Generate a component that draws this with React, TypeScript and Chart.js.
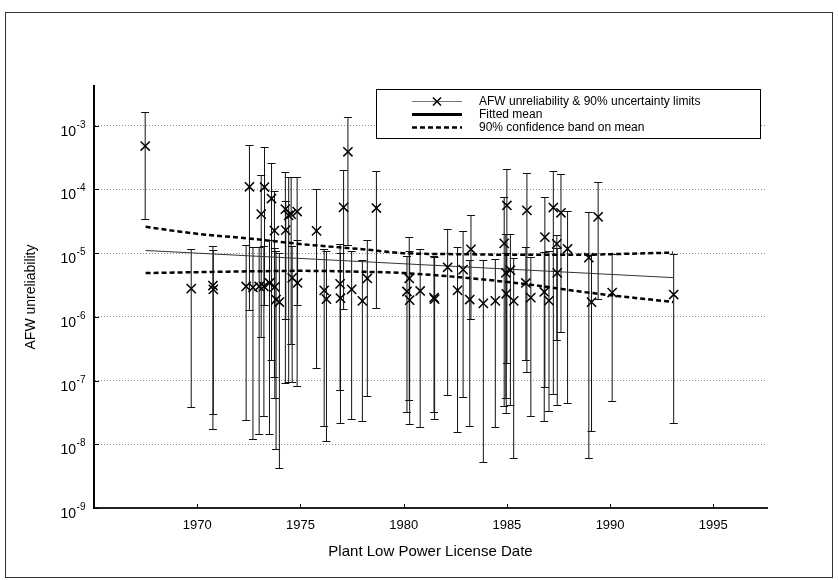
import React, { useEffect, useRef } from 'react';
import { Chart, registerables } from 'chart.js';

Chart.register(...registerables);

// ---- data ----
const YEARS = [
  1967.48, 1969.71, 1970.76, 1970.78, 1972.37, 1972.53, 1972.70, 1973.00, 1973.10, 1973.23,
  1973.26, 1973.50, 1973.60, 1973.74, 1973.76, 1973.82, 1973.98, 1974.27, 1974.29, 1974.43,
  1974.55, 1974.60, 1974.84, 1974.86, 1975.78, 1976.15, 1976.26, 1976.92, 1976.94, 1977.09,
  1977.30, 1977.48, 1978.00, 1978.24, 1978.68, 1980.16, 1980.27, 1980.29, 1980.80, 1981.47,
  1981.50, 1982.13, 1982.61, 1982.88, 1983.20, 1983.26, 1983.86, 1984.44, 1984.87, 1984.95,
  1984.97, 1985.00, 1985.17, 1985.33, 1985.92, 1985.97, 1986.16, 1986.81, 1986.84, 1987.04,
  1987.25, 1987.42, 1987.44, 1987.62, 1987.94, 1988.97, 1989.10, 1989.42, 1990.10, 1993.08,
];
const MEANS = [
  4.8e-4, 2.77e-6, 3.1e-6, 2.7e-6, 3.0e-6, 1.1e-4, 2.9e-6, 3.0e-6, 4.1e-5, 3.0e-6,
  1.09e-4, 3.4e-6, 7.2e-5, 2.26e-5, 2.95e-6, 1.87e-6, 1.71e-6, 4.9e-5, 2.3e-5, 3.9e-5,
  4.1e-5, 4.1e-6, 4.5e-5, 3.4e-6, 2.24e-5, 2.6e-6, 1.9e-6, 3.3e-6, 1.96e-6, 5.25e-5,
  3.9e-4, 2.7e-6, 1.78e-6, 4.0e-6, 5.1e-5, 2.5e-6, 4.0e-6, 1.83e-6, 2.55e-6, 2.0e-6,
  1.9e-6, 6.0e-6, 2.6e-6, 5.5e-6, 1.87e-6, 1.15e-5, 1.63e-6, 1.78e-6, 1.42e-5, 4.9e-6,
  2.3e-6, 5.6e-5, 5.4e-6, 1.78e-6, 3.4e-6, 4.7e-5, 2.0e-6, 2.46e-6, 1.78e-5, 1.8e-6,
  5.2e-5, 1.4e-5, 4.9e-6, 4.3e-5, 1.17e-5, 8.5e-6, 1.7e-6, 3.7e-5, 2.4e-6, 2.24e-6,
];
const LOWER = [
  3.4e-5, 3.9e-8, 1.74e-8, 3.0e-8, 2.4e-8, 1.26e-6, 1.23e-8, 1.44e-8, 4.9e-7, 2.75e-8,
  1.52e-6, 1.44e-8, 2.1e-7, 1.15e-7, 5.4e-8, 8.3e-9, 4.2e-9, 9.1e-8, 9.4e-7, 9.5e-8,
  3.7e-7, 9.4e-8, 8.3e-8, 1.52e-6, 1.55e-7, 1.95e-8, 1.12e-8, 7.2e-8, 2.15e-8, 1.35e-6,
  1.35e-5, 2.45e-8, 2.3e-8, 5.8e-8, 1.38e-6, 3.2e-8, 5.0e-8, 2.1e-8, 1.87e-8, 3.2e-8,
  2.45e-8, 6.0e-8, 1.55e-8, 5.5e-8, 1.95e-8, 9.1e-7, 5.2e-9, 1.86e-8, 4.0e-8, 5.3e-8,
  3.1e-8, 1.9e-7, 4.2e-8, 6.2e-9, 2.1e-7, 1.38e-7, 2.8e-8, 2.3e-8, 7.8e-8, 3.3e-8,
  6.2e-8, 4.4e-7, 4.2e-8, 5.8e-7, 4.4e-8, 6.2e-9, 1.62e-8, 1.9e-6, 4.7e-8, 2.15e-8,
];
const UPPER = [
  1.64e-3, 1.16e-5, 1.29e-5, 1.13e-5, 1.32e-5, 4.9e-4, 1.27e-5, 1.27e-5, 1.68e-4, 1.3e-5,
  4.7e-4, 1.58e-5, 2.6e-4, 9.3e-5, 1.2e-5, 1.1e-5, 1.0e-5, 1.9e-4, 6.6e-5, 1.58e-4,
  1.58e-4, 1.3e-5, 1.58e-4, 1.6e-5, 1.03e-4, 1.18e-5, 1.1e-5, 1.4e-5, 1.0e-5, 2.0e-4,
  1.35e-3, 1.1e-5, 7.9e-6, 1.58e-5, 1.95e-4, 8.9e-6, 1.78e-5, 1.1e-5, 1.15e-5, 8.9e-6,
  8.7e-6, 2.4e-5, 1.24e-5, 2.19e-5, 7.9e-6, 3.9e-5, 7.9e-6, 8.2e-6, 7.5e-5, 2.0e-5,
  1.0e-5, 2.1e-4, 2.0e-5, 8.3e-6, 1.24e-5, 1.78e-4, 8.6e-6, 1.04e-5, 7.5e-5, 1.1e-5,
  1.94e-4, 1.9e-5, 1.2e-5, 1.74e-4, 4.6e-5, 4.4e-5, 9.2e-6, 1.33e-4, 9.8e-6, 9.8e-6,
];

const FIT_YEARS = [1967.5, 1993.05];
const FIT_VALUES = [1.1e-5, 4.13e-6];

const BAND_YEARS = [1967.5, 1970, 1972.5, 1975, 1978, 1980, 1983, 1986, 1989, 1993.05];
const BAND_UPPER = [2.59e-5, 2.01e-5, 1.7e-5, 1.39e-5, 1.15e-5, 1.0e-5, 9.6e-6, 9.4e-6, 9.5e-6, 1.02e-5];
const BAND_LOWER = [4.87e-6, 5.03e-6, 5.18e-6, 5.27e-6, 5.1e-6, 4.87e-6, 4.1e-6, 3.24e-6, 2.39e-6, 1.71e-6];

const X_TICKS = [1970, 1975, 1980, 1985, 1990, 1995];
const Y_EXPONENTS = [-9, -8, -7, -6, -5, -4, -3];

const LEGEND_LABELS = [
  'AFW unreliability & 90% uncertainty limits',
  'Fitted mean',
  '90% confidence band on mean',
];
const X_TITLE = 'Plant Low Power License Date';
const Y_TITLE = 'AFW unreliability';

const FONT = "'Liberation Sans', Arial, Helvetica, sans-serif";

const decorPlugin = {
  id: 'decor',
  beforeDraw(chart: any) {
    const ctx = chart.ctx;
    ctx.save();
    ctx.fillStyle = '#ffffff';
    ctx.fillRect(0, 0, chart.width, chart.height);
    ctx.strokeStyle = '#333333';
    ctx.lineWidth = 1;
    ctx.strokeRect(5.5, 12.5, 827, 565);
    ctx.restore();
  },
  beforeDatasetsDraw(chart: any) {
    const ctx = chart.ctx;
    const xs = chart.scales.x;
    const ys = chart.scales.y;
    ctx.save();
    ctx.strokeStyle = '#111111';
    ctx.lineWidth = 1;
    YEARS.forEach((yr, i) => {
      const x = xs.getPixelForValue(yr);
      const yl = Math.round(ys.getPixelForValue(LOWER[i])) + 0.5;
      const yh = Math.round(ys.getPixelForValue(UPPER[i])) + 0.5;
      ctx.beginPath();
      ctx.moveTo(x, yh);
      ctx.lineTo(x, yl);
      ctx.moveTo(x - 4, yh);
      ctx.lineTo(x + 4, yh);
      ctx.moveTo(x - 4, yl);
      ctx.lineTo(x + 4, yl);
      ctx.stroke();
    });
    ctx.restore();
  },
  afterDraw(chart: any) {
    const ctx = chart.ctx;
    const xs = chart.scales.x;
    const ys = chart.scales.y;
    const area = chart.chartArea;
    ctx.save();
    // axis tick marks (inside)
    ctx.strokeStyle = '#000000';
    ctx.lineWidth = 1;
    ctx.beginPath();
    X_TICKS.forEach((v) => {
      const x = Math.round(xs.getPixelForValue(v)) + 0.5;
      ctx.moveTo(x, area.bottom);
      ctx.lineTo(x, area.bottom - 4);
    });
    Y_EXPONENTS.forEach((e) => {
      const y = Math.round(ys.getPixelForValue(Math.pow(10, e))) + 0.5;
      ctx.moveTo(area.left, y);
      ctx.lineTo(area.left + 5, y);
    });
    ctx.stroke();

    // y tick labels with superscript exponent
    ctx.fillStyle = '#000000';
    ctx.textAlign = 'right';
    ctx.textBaseline = 'alphabetic';
    Y_EXPONENTS.forEach((e) => {
      const y = ys.getPixelForValue(Math.pow(10, e));
      const expText = String(e);
      ctx.font = `10px ${FONT}`;
      const expRight = area.left - 8.5;
      const w = ctx.measureText(expText).width;
      ctx.fillText(expText, expRight, y + 2);
      ctx.font = `14px ${FONT}`;
      ctx.fillText('10', expRight - w - 0.5, y + 10);
    });

    // legend
    const L = { x: 376.5, y: 89.5, w: 384, h: 49 };
    ctx.fillStyle = '#ffffff';
    ctx.fillRect(L.x, L.y, L.w, L.h);
    ctx.strokeStyle = '#000000';
    ctx.lineWidth = 1;
    ctx.strokeRect(L.x, L.y, L.w, L.h);
    const rows = [101.5, 114.5, 127.5];
    const sx1 = 412;
    const sx2 = 462;
    const cx = (sx1 + sx2) / 2;
    // row 1: thin line with cross marker
    ctx.strokeStyle = '#777777';
    ctx.lineWidth = 1;
    ctx.beginPath();
    ctx.moveTo(sx1, rows[0]);
    ctx.lineTo(sx2, rows[0]);
    ctx.stroke();
    ctx.strokeStyle = '#000000';
    ctx.lineWidth = 1.5;
    ctx.beginPath();
    ctx.moveTo(cx - 4, rows[0] - 4);
    ctx.lineTo(cx + 4, rows[0] + 4);
    ctx.moveTo(cx + 4, rows[0] - 4);
    ctx.lineTo(cx - 4, rows[0] + 4);
    ctx.stroke();
    // row 2: thick solid line
    ctx.lineWidth = 3;
    ctx.beginPath();
    ctx.moveTo(sx1, rows[1]);
    ctx.lineTo(sx2, rows[1]);
    ctx.stroke();
    // row 3: dashed line
    ctx.lineWidth = 2.5;
    ctx.setLineDash([5, 3]);
    ctx.beginPath();
    ctx.moveTo(sx1, rows[2]);
    ctx.lineTo(sx2, rows[2]);
    ctx.stroke();
    ctx.setLineDash([]);
    ctx.fillStyle = '#000000';
    ctx.font = `12px ${FONT}`;
    ctx.textAlign = 'left';
    ctx.textBaseline = 'middle';
    LEGEND_LABELS.forEach((t, i) => ctx.fillText(t, 479, rows[i]));
    ctx.restore();
  },
};

export default function App() {
  const canvasRef = useRef<HTMLCanvasElement | null>(null);

  useEffect(() => {
    const canvas = canvasRef.current;
    if (!canvas) return;
    const chart = new Chart(canvas, {
      type: 'scatter',
      data: {
        datasets: [
          {
            label: LEGEND_LABELS[0],
            data: YEARS.map((x, i) => ({ x, y: MEANS[i] })),
            pointStyle: 'crossRot',
            pointRadius: 6.5,
            pointBorderWidth: 1.5,
            borderColor: '#000000',
            backgroundColor: '#000000',
            showLine: false,
          } as any,
          {
            label: LEGEND_LABELS[1],
            data: FIT_YEARS.map((x, i) => ({ x, y: FIT_VALUES[i] })),
            showLine: true,
            borderColor: '#333333',
            borderWidth: 1,
            pointRadius: 0,
          } as any,
          {
            label: 'upper band',
            data: BAND_YEARS.map((x, i) => ({ x, y: BAND_UPPER[i] })),
            showLine: true,
            borderColor: '#000000',
            borderWidth: 2.5,
            borderDash: [5, 3],
            pointRadius: 0,
            cubicInterpolationMode: 'monotone',
          } as any,
          {
            label: 'lower band',
            data: BAND_YEARS.map((x, i) => ({ x, y: BAND_LOWER[i] })),
            showLine: true,
            borderColor: '#000000',
            borderWidth: 2.5,
            borderDash: [5, 3],
            pointRadius: 0,
            cubicInterpolationMode: 'monotone',
          } as any,
        ],
      },
      options: {
        animation: false,
        responsive: false,
        devicePixelRatio: 1,
        events: [],
        layout: { padding: { top: 86, right: 71, left: 0, bottom: 0 } },
        plugins: { legend: { display: false }, tooltip: { enabled: false } },
        scales: {
          x: {
            type: 'linear',
            position: 'bottom',
            min: 1965,
            max: 1997.6,
            afterBuildTicks: (s: any) => {
              s.ticks = X_TICKS.map((v) => ({ value: v }));
            },
            afterFit: (s: any) => {
              s.height = 72;
            },
            grid: { display: false, drawTicks: false },
            border: { display: true, color: '#222222', width: 2 },
            ticks: {
              font: { family: FONT, size: 13 },
              color: '#000000',
              padding: 10,
              maxRotation: 0,
              autoSkip: false,
              callback: (v: any) => String(v),
            },
            title: {
              display: true,
              text: X_TITLE,
              font: { family: FONT, size: 15 },
              color: '#000000',
              padding: { top: 0, bottom: 19 },
            },
          },
          y: {
            type: 'logarithmic',
            min: 1e-9,
            max: 4.2e-3,
            afterBuildTicks: (s: any) => {
              s.ticks = Y_EXPONENTS.map((e) => ({ value: Math.pow(10, e) }));
            },
            afterFit: (s: any) => {
              s.width = 94;
            },
            grid: { color: '#8c8c8c', lineWidth: 1, drawTicks: false },
            border: { display: true, color: '#000000', width: 2, dash: [1, 2] },
            ticks: { display: false },
            title: {
              display: true,
              text: Y_TITLE,
              font: { family: FONT, size: 14 },
              color: '#000000',
              padding: { top: 22.6, bottom: 0 },
            },
          },
        },
      } as any,
      plugins: [decorPlugin],
    });
    return () => chart.destroy();
  }, []);

  return (
    <div style={{ position: 'absolute', left: 0, top: 0, width: 838, height: 580 }}>
      <canvas ref={canvasRef} width={838} height={580} style={{ display: 'block' }} />
    </div>
  );
}
